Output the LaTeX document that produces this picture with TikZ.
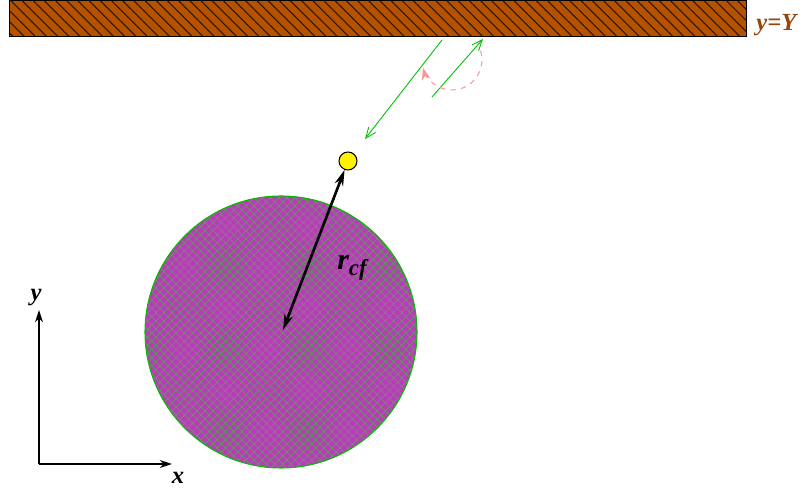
\documentclass[tikz,border=0pt]{standalone}
\usepackage{fontspec}
\setmainfont{Liberation Serif}
\usetikzlibrary{arrows.meta,patterns.meta,positioning}
\definecolor{wallbrown}{RGB}{180,82,0}
\definecolor{labelbrown}{RGB}{150,70,10}
\definecolor{bodymagenta}{RGB}{186,58,186}
\definecolor{hatchgreen}{RGB}{100,150,100}
\definecolor{raygreen}{RGB}{0,190,0}
\definecolor{arcpink}{RGB}{255,150,150}
\begin{document}
\begin{tikzpicture}[x=0.02cm,y=0.02cm,
    ray/.style={raygreen,line width=0.5pt,-{Straight Barb[length=6pt,width=5pt]}},
    axis/.style={line width=0.6pt,-{Stealth[length=7pt,width=4.5pt]}},
    lbl/.style={font=\fontsize{14}{16}\selectfont\bfseries\itshape,inner sep=0pt}]
\useasboundingbox (0,0) rectangle (805,493);

% wall at y=Y
\fill[wallbrown] (9,457) rectangle (746,493);
\fill[pattern={Lines[angle=-45,distance=4.5pt,line width=0.6pt]},pattern color=black!75!wallbrown] (9,457) rectangle (746,493);
\draw[line width=0.5pt] (9,457) rectangle (746,493);
\node (walllabel) [lbl, labelbrown, anchor=west] at (756,468) {y=Y};

% the body
\fill[bodymagenta] (281,161) circle (136);
\fill[pattern={Lines[angle=45,distance=3.3pt,line width=0.4pt]},pattern color=hatchgreen] (281,161) circle (136);
\fill[pattern={Lines[angle=-45,distance=3.3pt,line width=0.4pt]},pattern color=hatchgreen] (281,161) circle (136);
\draw[raygreen,line width=0.6pt] (281,161) circle (136);
\coordinate (bodyc) at (283,163);

% particle and distance
\node (particle) [circle, draw, fill=yellow, line width=0.6pt, minimum size=0.36cm, inner sep=0pt] at (348,332) {};
\draw[{Stealth[length=9pt,width=5pt]}-{Stealth[length=9pt,width=5pt]}, line width=1.5pt] (bodyc) -- (particle);
\node (rlabel) [lbl, font=\fontsize{17}{18}\selectfont\bfseries\itshape] at (352,225) {r\raisebox{-0.45ex}{\fontsize{13}{14}\selectfont cf}};

% incoming and reflected rays
\coordinate (inA) at (442,453);
\coordinate (inB) at (365,354);
\coordinate (outA) at (432,396);
\coordinate (outB) at (483,454);
\draw[ray] (inA) -- (inB);
\draw[ray] (outA) -- (outB);
\coordinate (arcstart) at (480.5,442.3);
\draw[arcpink, dashed, line width=0.6pt, -{Stealth[length=7pt,width=5pt]}] (arcstart) arc[start angle=18, end angle=-165, radius=30];

% axes
\coordinate (origin) at (39,29);
\coordinate (yend) at (39,183);
\coordinate (xend) at (172,29);
\draw[axis] (origin) -- (yend);
\draw[axis] (origin) -- (xend);
\node (ylabel) [lbl] at (36,195) {y};
\node (xlabel) [lbl] at (178,15) {x};
\end{tikzpicture}
\end{document}
